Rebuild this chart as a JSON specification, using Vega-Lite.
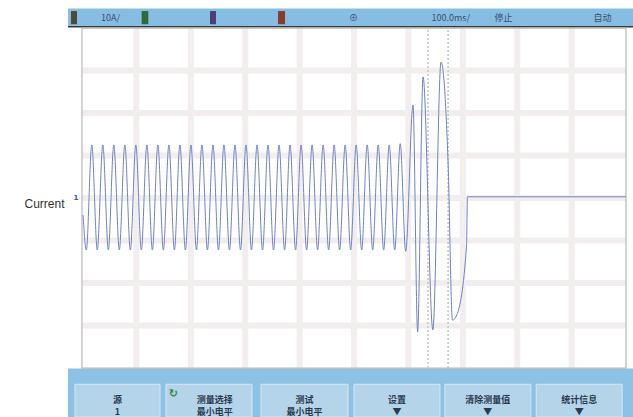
{
  "$schema": "https://vega.github.io/schema/vega-lite/v6.json",
  "width": 565,
  "height": 417,
  "autosize": {"type": "none"},
  "padding": {"left": 68, "top": 0, "right": 0, "bottom": 0},
  "background": "#ffffff",
  "config": {
    "view": {"stroke": null},
    "axisY": {
      "titleAngle": 0,
      "titleAlign": "right",
      "titleBaseline": "middle",
      "titleX": -4,
      "titleY": 203,
      "titleFont": "Liberation Sans",
      "titleFontSize": 12,
      "titleFontWeight": "normal",
      "titleColor": "#333333",
      "labels": false,
      "ticks": false,
      "domain": false,
      "grid": false
    }
  },
  "datasets": {
    "wave": [
      {"t": 2, "a": -4}, {"t": 8, "a": -12.2},
      {"t": 18.0, "a": 12.5}, {"t": 28.1, "a": -12.2},
      {"t": 38.3, "a": 12.5}, {"t": 48.4, "a": -12.2},
      {"t": 58.5, "a": 12.5}, {"t": 68.6, "a": -12.2},
      {"t": 78.8, "a": 12.5}, {"t": 88.9, "a": -12.2},
      {"t": 99.0, "a": 12.5}, {"t": 109.1, "a": -12.2},
      {"t": 119.3, "a": 12.5}, {"t": 129.4, "a": -12.2},
      {"t": 139.5, "a": 12.5}, {"t": 149.6, "a": -12.2},
      {"t": 159.8, "a": 12.5}, {"t": 169.9, "a": -12.2},
      {"t": 180.0, "a": 12.5}, {"t": 190.1, "a": -12.2},
      {"t": 200.3, "a": 12.5}, {"t": 210.4, "a": -12.2},
      {"t": 220.5, "a": 12.5}, {"t": 230.6, "a": -12.2},
      {"t": 240.8, "a": 12.5}, {"t": 250.9, "a": -12.2},
      {"t": 261.0, "a": 12.5}, {"t": 271.1, "a": -12.2},
      {"t": 281.3, "a": 12.5}, {"t": 291.4, "a": -12.2},
      {"t": 301.5, "a": 12.5}, {"t": 311.6, "a": -12.2},
      {"t": 321.8, "a": 12.5}, {"t": 331.9, "a": -12.2},
      {"t": 342.0, "a": 12.5}, {"t": 352.1, "a": -12.2},
      {"t": 362.3, "a": 12.5}, {"t": 372.4, "a": -12.2},
      {"t": 382.5, "a": 12.5}, {"t": 392.6, "a": -12.2},
      {"t": 402.8, "a": 12.5}, {"t": 412.9, "a": -12.2},
      {"t": 423.0, "a": 12.5}, {"t": 433.1, "a": -12.2},
      {"t": 443.3, "a": 12.5}, {"t": 453.4, "a": -12.2},
      {"t": 463.5, "a": 12.5}, {"t": 473.6, "a": -12.2},
      {"t": 483.8, "a": 12.5}, {"t": 493.9, "a": -12.2},
      {"t": 504.0, "a": 12.5}, {"t": 514.1, "a": -12.2},
      {"t": 524.3, "a": 12.5}, {"t": 534.4, "a": -12.2},
      {"t": 544.5, "a": 12.5}, {"t": 554.6, "a": -12.2},
      {"t": 564.8, "a": 12.5}, {"t": 574.9, "a": -12.2},
      {"t": 585.0, "a": 12.8}, {"t": 595.1, "a": -12.5},
      {"t": 608.5, "a": 21.9}, {"t": 617, "a": -31.5},
      {"t": 627, "a": 28.5}, {"t": 645, "a": -31.0},
      {"t": 660, "a": 32.0}, {"t": 673, "a": 8.2},
      {"t": 681, "a": -28.7}, {"t": 689, "a": -27.5},
      {"t": 707, "a": -11.0}, {"t": 708.5, "a": 0.3},
      {"t": 1000, "a": 0.3}
    ],
    "vgrid": [
      {"t": 100}, {"t": 200}, {"t": 300}, {"t": 400}, {"t": 500},
      {"t": 600}, {"t": 700}, {"t": 800}, {"t": 900}
    ],
    "hgrid": [
      {"a": -30}, {"a": -20}, {"a": -10}, {"a": 0}, {"a": 10}, {"a": 20}, {"a": 30}
    ],
    "cursors": [{"t": 636}, {"t": 673}],
    "plot": [{"t0": 0, "t1": 1000, "a0": -40, "a1": 40}],
    "topbar": [{"t0": -25.7, "t1": 1012.9, "a0": 40.3, "a1": 44.6}],
    "bottombar": [{"t0": -25.7, "t1": 1012.9, "a0": -51.5, "a1": -40.1}],
    "buttons": [
      {"t0": -12.9, "t1": 143.4, "a0": -51.5, "a1": -43.8},
      {"t0": 154.4, "t1": 312.5, "a0": -51.5, "a1": -43.8},
      {"t0": 329, "t1": 489, "a0": -51.5, "a1": -43.8},
      {"t0": 500, "t1": 658, "a0": -51.5, "a1": -43.8},
      {"t0": 667, "t1": 825, "a0": -51.5, "a1": -43.8},
      {"t0": 835, "t1": 993, "a0": -51.5, "a1": -43.8}
    ],
    "channels": [
      {"ch": "main", "t0": -20.2, "t1": -9.2, "a0": 40.9, "a1": 44.0},
      {"ch": "A", "t0": 109.7, "t1": 121.9, "a0": 40.9, "a1": 44.0},
      {"ch": "B", "t0": 235.3, "t1": 246.3, "a0": 40.9, "a1": 44.0},
      {"ch": "C", "t0": 360.3, "t1": 373.2, "a0": 40.9, "a1": 44.0}
    ],
    "toptext": [
      {"label": "10A/", "t": 52.4, "a": 42.4},
      {"label": "⊕", "t": 499, "a": 42.4},
      {"label": "100.0ms/", "t": 678, "a": 42.4},
      {"label": "停止", "t": 775, "a": 42.4},
      {"label": "自动", "t": 957, "a": 42.4}
    ],
    "btntext": [
      {"label": "源\n1", "t": 65.3, "a": -47.6},
      {"label": "测量选择\n最小电平", "t": 244, "a": -47.6},
      {"label": "测试\n最小电平", "t": 409, "a": -47.6},
      {"label": "设置\n▼", "t": 579, "a": -47.6},
      {"label": "清除测量值\n▼", "t": 746, "a": -47.6},
      {"label": "统计信息\n▼", "t": 914, "a": -47.6}
    ],
    "icons": [{"label": "↻", "t": 168, "a": -46.1}],
    "marker": [{"label": "1", "t": -11, "a": 0}]
  },
  "layer": [
    {
      "data": {"name": "topbar"},
      "mark": {"type": "rect", "fill": "#86bde3"},
      "encoding": {
        "x": {"field": "t0", "type": "quantitative", "scale": {"domain": [-25.7, 1012.9], "nice": false, "zero": false}, "axis": null},
        "x2": {"field": "t1"},
        "y": {"field": "a0", "type": "quantitative", "scale": {"domain": [-51.5, 46.6], "nice": false, "zero": false}, "axis": {"title": "Current"}},
        "y2": {"field": "a1"}
      }
    },
    {
      "data": {"name": "bottombar"},
      "mark": {"type": "rect", "fill": "#8cc2e5"},
      "encoding": {
        "x": {"field": "t0", "type": "quantitative", "axis": null},
        "x2": {"field": "t1"},
        "y": {"field": "a0", "type": "quantitative", "axis": {"title": "Current"}},
        "y2": {"field": "a1"}
      }
    },
    {
      "data": {"name": "buttons"},
      "mark": {"type": "rect", "fill": "#b4d4ea", "stroke": "#d6e8f4", "strokeWidth": 1},
      "encoding": {
        "x": {"field": "t0", "type": "quantitative", "axis": null},
        "x2": {"field": "t1"},
        "y": {"field": "a0", "type": "quantitative", "axis": {"title": "Current"}},
        "y2": {"field": "a1"}
      }
    },
    {
      "data": {"name": "topbar"},
      "mark": {"type": "rule", "stroke": "#3a3a3a", "strokeWidth": 1.5},
      "encoding": {
        "x": {"field": "t0", "type": "quantitative", "axis": null},
        "x2": {"field": "t1"},
        "y": {"field": "a0", "type": "quantitative", "axis": {"title": "Current"}}
      }
    },
    {
      "data": {"name": "vgrid"},
      "mark": {"type": "rule", "stroke": "#f3eeee", "strokeWidth": 6},
      "encoding": {
        "x": {"field": "t", "type": "quantitative", "axis": null},
        "y": {"datum": -40, "type": "quantitative", "axis": {"title": "Current"}},
        "y2": {"datum": 40}
      }
    },
    {
      "data": {"name": "hgrid"},
      "mark": {"type": "rule", "stroke": "#f3eeee", "strokeWidth": 6},
      "encoding": {
        "y": {"field": "a", "type": "quantitative", "axis": {"title": "Current"}},
        "x": {"datum": 0, "type": "quantitative", "axis": null},
        "x2": {"datum": 1000}
      }
    },
    {
      "data": {"name": "plot"},
      "mark": {"type": "rect", "fill": null, "stroke": "#b8b8b8", "strokeWidth": 1.2},
      "encoding": {
        "x": {"field": "t0", "type": "quantitative", "axis": null},
        "x2": {"field": "t1"},
        "y": {"field": "a0", "type": "quantitative", "axis": {"title": "Current"}},
        "y2": {"field": "a1"}
      }
    },
    {
      "data": {"name": "cursors"},
      "mark": {"type": "rule", "stroke": "#c4c4c4", "strokeWidth": 1.5, "strokeDash": [2, 2]},
      "encoding": {
        "x": {"field": "t", "type": "quantitative", "axis": null},
        "y": {"datum": -40, "type": "quantitative", "axis": {"title": "Current"}},
        "y2": {"datum": 40}
      }
    },
    {
      "data": {"name": "wave"},
      "mark": {"type": "line", "stroke": "#6f82c8", "strokeWidth": 1, "interpolate": "monotone"},
      "encoding": {
        "x": {"field": "t", "type": "quantitative", "axis": null},
        "y": {"field": "a", "type": "quantitative", "axis": {"title": "Current"}}
      }
    },
    {
      "data": {"name": "channels"},
      "mark": {"type": "rect"},
      "encoding": {
        "x": {"field": "t0", "type": "quantitative", "axis": null},
        "x2": {"field": "t1"},
        "y": {"field": "a0", "type": "quantitative", "axis": {"title": "Current"}},
        "y2": {"field": "a1"},
        "color": {
          "field": "ch",
          "type": "nominal",
          "scale": {"domain": ["main", "A", "B", "C"], "range": ["#4d4a3c", "#2f6a3c", "#4c3f72", "#8a3b2c"]},
          "legend": null
        }
      }
    },
    {
      "data": {"name": "toptext"},
      "mark": {"type": "text", "font": "Noto Sans CJK SC", "fontSize": 9, "color": "#36506e", "baseline": "middle", "align": "center"},
      "encoding": {
        "x": {"field": "t", "type": "quantitative", "axis": null},
        "y": {"field": "a", "type": "quantitative", "axis": {"title": "Current"}},
        "text": {"field": "label"}
      }
    },
    {
      "data": {"name": "btntext"},
      "mark": {"type": "text", "font": "Noto Sans CJK SC", "fontSize": 9, "fontWeight": "bold", "color": "#2a3a4e", "baseline": "middle", "align": "center", "lineBreak": "\n", "lineHeight": 12},
      "encoding": {
        "x": {"field": "t", "type": "quantitative", "axis": null},
        "y": {"field": "a", "type": "quantitative", "axis": {"title": "Current"}},
        "text": {"field": "label"}
      }
    },
    {
      "data": {"name": "icons"},
      "mark": {"type": "text", "font": "DejaVu Sans", "fontSize": 11, "fontWeight": "bold", "color": "#2e8b3a", "baseline": "middle", "align": "center"},
      "encoding": {
        "x": {"field": "t", "type": "quantitative", "axis": null},
        "y": {"field": "a", "type": "quantitative", "axis": {"title": "Current"}},
        "text": {"field": "label"}
      }
    },
    {
      "data": {"name": "marker"},
      "mark": {"type": "text", "font": "DejaVu Sans", "fontSize": 7, "fontWeight": "bold", "color": "#3355aa", "baseline": "middle", "align": "center"},
      "encoding": {
        "x": {"field": "t", "type": "quantitative", "axis": null},
        "y": {"field": "a", "type": "quantitative", "axis": {"title": "Current"}},
        "text": {"field": "label"}
      }
    }
  ]
}
